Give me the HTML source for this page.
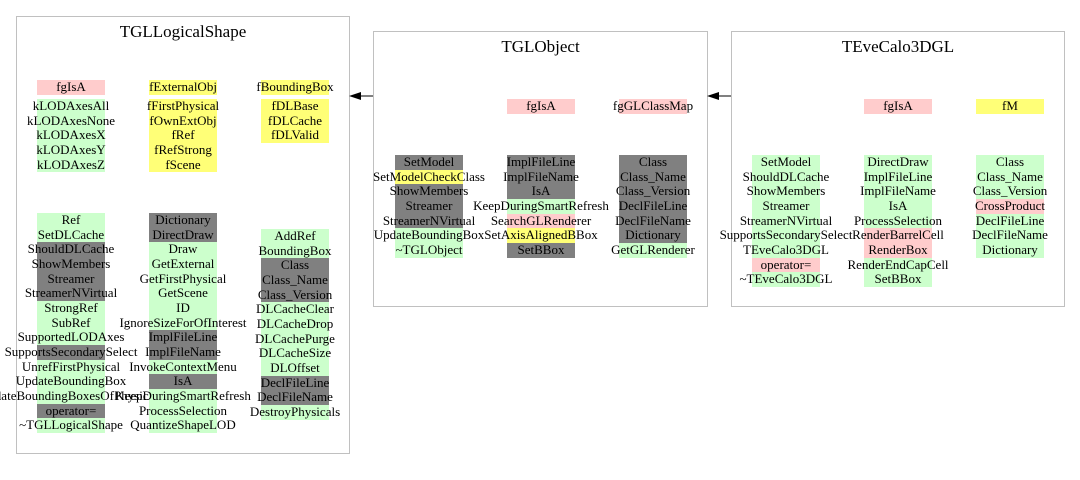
<!DOCTYPE html>
<html><head><meta charset="utf-8"><style>
body{margin:0;width:1080px;height:480px;background:#fff;position:relative;overflow:hidden;font-family:"Liberation Serif",serif;font-size:13px;color:#000}
.box{position:absolute;border:1px solid #c0c0c0;box-sizing:border-box}
.t{position:absolute;font-size:17px;text-align:center;white-space:nowrap}
.col{position:absolute;width:68px}
.col div{height:14.67px;line-height:14.67px;display:flex;justify-content:center;white-space:nowrap}
.g{background:#ccffcc}.k{background:#808080}.p{background:#ffcccc}.y{background:#ffff77}
</style></head><body>
<div class="box" style="left:16px;top:16px;width:334px;height:438px"></div>
<div class="t" style="left:16px;width:334px;top:22px">TGLLogicalShape</div>
<div class="box" style="left:373px;top:31px;width:335px;height:276px"></div>
<div class="t" style="left:373px;width:335px;top:37px">TGLObject</div>
<div class="box" style="left:731px;top:31px;width:334px;height:276px"></div>
<div class="t" style="left:731px;width:334px;top:37px">TEveCalo3DGL</div>
<svg width="1080" height="480" style="position:absolute;left:0;top:0">
<line x1="373" y1="96" x2="360" y2="96" stroke="#000"/><polygon points="349,96 361,92 361,100" fill="#000"/>
<line x1="731" y1="96" x2="718" y2="96" stroke="#000"/><polygon points="707,96 719,92 719,100" fill="#000"/>
</svg>

<div class="col" style="left:37px;top:80px"><div class="p">fgIsA</div></div>
<div class="col" style="left:37px;top:99px"><div class="g">kLODAxesAll</div><div class="g">kLODAxesNone</div><div class="g">kLODAxesX</div><div class="g">kLODAxesY</div><div class="g">kLODAxesZ</div></div>
<div class="col" style="left:149px;top:80px"><div class="y">fExternalObj</div></div>
<div class="col" style="left:149px;top:99px"><div class="y">fFirstPhysical</div><div class="y">fOwnExtObj</div><div class="y">fRef</div><div class="y">fRefStrong</div><div class="y">fScene</div></div>
<div class="col" style="left:261px;top:80px"><div class="y">fBoundingBox</div></div>
<div class="col" style="left:261px;top:99px"><div class="y">fDLBase</div><div class="y">fDLCache</div><div class="y">fDLValid</div></div>

<div class="col" style="left:37px;top:213px"><div class="g">Ref</div><div class="g">SetDLCache</div><div class="k">ShouldDLCache</div><div class="k">ShowMembers</div><div class="k">Streamer</div><div class="k">StreamerNVirtual</div><div class="g">StrongRef</div><div class="g">SubRef</div><div class="g">SupportedLODAxes</div><div class="k">SupportsSecondarySelect</div><div class="g">UnrefFirstPhysical</div><div class="g">UpdateBoundingBox</div><div class="g">UpdateBoundingBoxesOfPhysicals</div><div class="k">operator=</div><div class="g">~TGLLogicalShape</div></div>
<div class="col" style="left:149px;top:213px"><div class="k">Dictionary</div><div class="k">DirectDraw</div><div class="g">Draw</div><div class="g">GetExternal</div><div class="g">GetFirstPhysical</div><div class="g">GetScene</div><div class="g">ID</div><div class="g">IgnoreSizeForOfInterest</div><div class="k">ImplFileLine</div><div class="k">ImplFileName</div><div class="g">InvokeContextMenu</div><div class="k">IsA</div><div class="g">KeepDuringSmartRefresh</div><div class="g">ProcessSelection</div><div class="g">QuantizeShapeLOD</div></div>
<div class="col" style="left:261px;top:229px"><div class="g">AddRef</div><div class="g">BoundingBox</div><div class="k">Class</div><div class="k">Class_Name</div><div class="k">Class_Version</div><div class="g">DLCacheClear</div><div class="g">DLCacheDrop</div><div class="g">DLCachePurge</div><div class="g">DLCacheSize</div><div class="g">DLOffset</div><div class="k">DeclFileLine</div><div class="k">DeclFileName</div><div class="g">DestroyPhysicals</div></div>

<div class="col" style="left:507px;top:99px"><div class="p">fgIsA</div></div>
<div class="col" style="left:619px;top:99px"><div class="p">fgGLClassMap</div></div>
<div class="col" style="left:395px;top:155px"><div class="k">SetModel</div><div class="y">SetModelCheckClass</div><div class="k">ShowMembers</div><div class="k">Streamer</div><div class="k">StreamerNVirtual</div><div class="g">UpdateBoundingBox</div><div class="g">~TGLObject</div></div>
<div class="col" style="left:507px;top:155px"><div class="k">ImplFileLine</div><div class="k">ImplFileName</div><div class="k">IsA</div><div class="g">KeepDuringSmartRefresh</div><div class="p">SearchGLRenderer</div><div class="y">SetAxisAlignedBBox</div><div class="k">SetBBox</div></div>
<div class="col" style="left:619px;top:155px"><div class="k">Class</div><div class="k">Class_Name</div><div class="k">Class_Version</div><div class="k">DeclFileLine</div><div class="k">DeclFileName</div><div class="k">Dictionary</div><div class="g">GetGLRenderer</div></div>

<div class="col" style="left:864px;top:99px"><div class="p">fgIsA</div></div>
<div class="col" style="left:976px;top:99px"><div class="y">fM</div></div>
<div class="col" style="left:752px;top:155px"><div class="g">SetModel</div><div class="g">ShouldDLCache</div><div class="g">ShowMembers</div><div class="g">Streamer</div><div class="g">StreamerNVirtual</div><div class="g">SupportsSecondarySelect</div><div class="g">TEveCalo3DGL</div><div class="p">operator=</div><div class="g">~TEveCalo3DGL</div></div>
<div class="col" style="left:864px;top:155px"><div class="g">DirectDraw</div><div class="g">ImplFileLine</div><div class="g">ImplFileName</div><div class="g">IsA</div><div class="g">ProcessSelection</div><div class="p">RenderBarrelCell</div><div class="p">RenderBox</div><div class="g">RenderEndCapCell</div><div class="g">SetBBox</div></div>
<div class="col" style="left:976px;top:155px"><div class="g">Class</div><div class="g">Class_Name</div><div class="g">Class_Version</div><div class="p">CrossProduct</div><div class="g">DeclFileLine</div><div class="g">DeclFileName</div><div class="g">Dictionary</div></div>
</body></html>
